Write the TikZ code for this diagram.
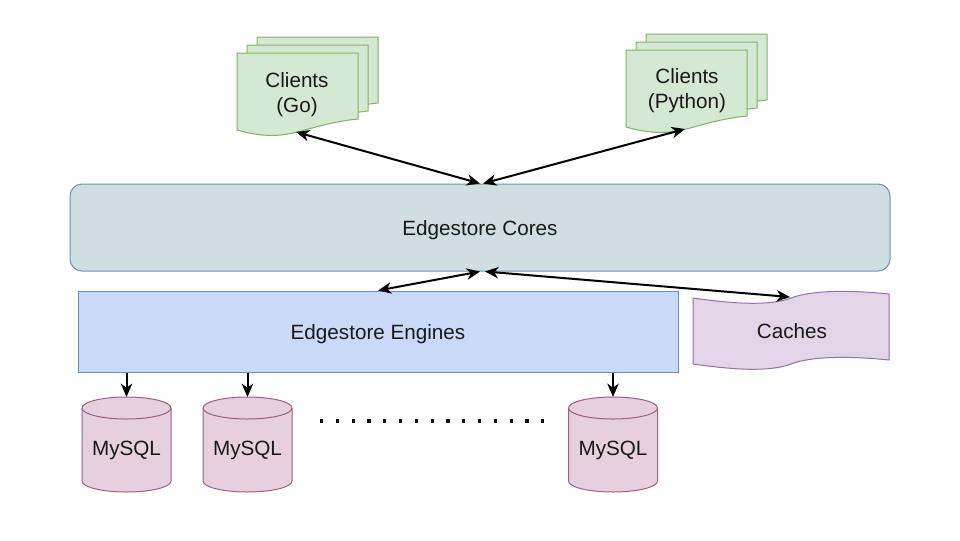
\documentclass[tikz,border=0pt]{standalone}
\usepackage{fontspec}
\setmainfont{Liberation Sans}
\usetikzlibrary{arrows.meta,calc}
\definecolor{docfill}{HTML}{D5E8D4}
\definecolor{docline}{HTML}{82B366}
\definecolor{corefill}{HTML}{D0DEE2}
\definecolor{coreline}{HTML}{6F93A6}
\definecolor{engfill}{HTML}{C9DAF8}
\definecolor{engline}{HTML}{6C8EBF}
\definecolor{cachefill}{HTML}{E1D5E7}
\definecolor{cacheline}{HTML}{9673A6}
\definecolor{dbfill}{HTML}{E6D0DE}
\definecolor{dbline}{HTML}{996185}
\tikzset{
  lbl/.style={font=\fontsize{15.5}{18.75}\selectfont, text=black!90, align=center, inner sep=0pt},
  docstyle/.style={fill=docfill, draw=docline, line width=0.75pt},
  docpage/.pic={\path[docstyle] (0,0) -- (121,0) -- (121,-66) .. controls (63,-72) and (53,-92) .. (0,-77) -- cycle;},
  coresbox/.style={lbl, rectangle, rounded corners=9pt, fill=corefill, draw=coreline, line width=0.75pt},
  engbox/.style={lbl, rectangle, fill=engfill, draw=engline, line width=0.75pt},
  cachestyle/.style={fill=cachefill, draw=cacheline, line width=0.75pt},
  dbstyle/.style={fill=dbfill, draw=dbline, line width=0.75pt},
  biarrow/.style={line width=1.5pt, {Stealth[length=10pt,width=8.5pt,inset=3pt]}-{Stealth[length=10pt,width=8.5pt,inset=3pt]}},
  downarrow/.style={line width=1.5pt, -{Stealth[length=10pt,width=8.5pt,inset=3pt]}},
  dotline/.style={line width=2.4pt, dash pattern=on 2.4pt off 9.45pt}
}
\newcommand{\dbcyl}[2]{%
  \path[dbstyle] (#2-44.5,-408) -- (#2-44.5,-481)
    arc[start angle=180,end angle=360,x radius=44.5,y radius=11]
    -- (#2+44.5,-408)
    arc[start angle=0,end angle=180,x radius=44.5,y radius=11] -- cycle;
  \draw[dbline, line width=0.75pt] (#2-44.5,-408) arc[start angle=180,end angle=360,x radius=44.5,y radius=11];
  \node[lbl] (#1) at (#2,-450) {MySQL};
  \coordinate (#1t) at (#2,-397);
}
\begin{document}
\begin{tikzpicture}[x=0.75pt,y=0.75pt]
\useasboundingbox (0,0) rectangle (960,-540);
\fill[white] (0,0) rectangle (960,-540);

% Clients (Go)
\pic at (257,-37) {docpage};
\pic at (247,-45) {docpage};
\pic at (237,-53) {docpage};
\node[lbl] (go) at (297,-94.5) {Clients\\(Go)};
\coordinate (goB) at (296,-132);

% Clients (Python)
\pic at (646,-34) {docpage};
\pic at (636,-42) {docpage};
\pic at (626,-50) {docpage};
\node[lbl] (py) at (687,-90.5) {Clients\\(Python)};
\coordinate (pyB) at (685,-129);

% Cores
\node[coresbox, minimum width=615pt, minimum height=65.25pt] (cores) at (480,-227.5) {};
\node[lbl] (corestext) at (480,-230) {Edgestore Cores};

% Engines
\node[engbox, minimum width=450pt, minimum height=60.75pt] (engines) at (378,-331.5) {};
\node[lbl] (enginestext) at (378,-334) {Edgestore Engines};

% Caches
\path[cachestyle] (693,-298) .. controls (735,-304) and (770,-306) .. (791,-298)
  .. controls (812,-290) and (850,-290) .. (889,-294)
  -- (889,-360)
  .. controls (850,-356) and (812,-356) .. (791,-364)
  .. controls (770,-372) and (735,-370) .. (693,-364) -- cycle;
\node[lbl] (caches) at (792,-331) {Caches};
\coordinate (cacheT) at (790,-297);

% MySQL
\dbcyl{db1}{126.5}
\dbcyl{db2}{247.5}
\dbcyl{db3}{613}

\draw[dotline] (320,-421) -- (546,-421);

% connectors
\draw[biarrow] (goB) -- (cores.north);
\draw[biarrow] (pyB) -- ([xshift=2.25pt]cores.north);
\draw[biarrow] (engines.north) -- (cores.south);
\draw[biarrow] ([xshift=3.75pt]cores.south) -- (cacheT);
\draw[downarrow] (engines.south -| db1t) -- (db1t);
\draw[downarrow] (engines.south -| db2t) -- (db2t);
\draw[downarrow] (engines.south -| db3t) -- (db3t);
\end{tikzpicture}
\end{document}
